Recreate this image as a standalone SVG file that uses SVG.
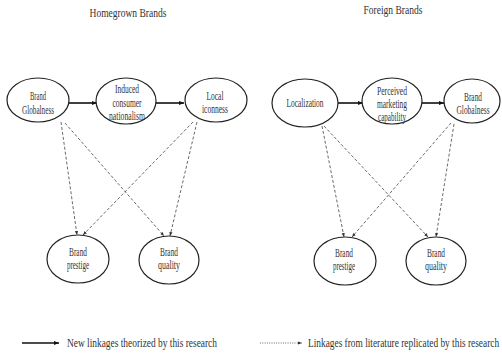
<svg xmlns="http://www.w3.org/2000/svg" width="502" height="353" viewBox="0 0 502 353">
<defs>
<style>
.node ellipse{fill:#fff;stroke:#222;stroke-width:1.2}
text{font-family:"Liberation Serif","Times New Roman",serif;fill:#333;text-anchor:middle}
.t{font-size:12px}
.h{font-size:12px}
.solid{stroke:#111;stroke-width:1.6;fill:none}
.dash{stroke:#444;stroke-width:0.8;stroke-dasharray:3 2;fill:none}
.dot{stroke:#444;stroke-width:0.8;stroke-dasharray:1 1.3;fill:none}
</style>
<marker id="ah" viewBox="0 0 10 10" refX="10" refY="5" markerWidth="5" markerHeight="5" markerUnits="userSpaceOnUse" orient="auto"><path d="M0,1 L10,5 L0,9 z" fill="#111"/></marker>
<marker id="ahs" viewBox="0 0 10 10" refX="10" refY="5" markerWidth="4" markerHeight="4" markerUnits="userSpaceOnUse" orient="auto"><path d="M0,1 L10,5 L0,9 z" fill="#333"/></marker>
</defs>
<rect width="502" height="353" fill="#fff"/>
<text class="h" x="128" y="17" textLength="77" lengthAdjust="spacingAndGlyphs">Homegrown Brands</text>
<text class="h" x="393" y="14" textLength="59" lengthAdjust="spacingAndGlyphs">Foreign Brands</text>
<g id="connectors">
<line class="solid" x1="69" y1="103" x2="97" y2="103" marker-end="url(#ah)"/>
<line class="solid" x1="156" y1="103" x2="184" y2="103" marker-end="url(#ah)"/>
<line class="dash" x1="61" y1="122" x2="77" y2="235" marker-end="url(#ahs)"/>
<line class="dash" x1="65" y1="123" x2="164" y2="236" marker-end="url(#ahs)"/>
<line class="dash" x1="193" y1="122" x2="83" y2="235" marker-end="url(#ahs)"/>
<line class="dash" x1="197" y1="122" x2="170" y2="236" marker-end="url(#ahs)"/>
<line class="solid" x1="338" y1="103" x2="363" y2="103" marker-end="url(#ah)"/>
<line class="solid" x1="422" y1="103" x2="444" y2="103" marker-end="url(#ah)"/>
<line class="dash" x1="322" y1="126" x2="344" y2="237" marker-end="url(#ahs)"/>
<line class="dash" x1="324" y1="126" x2="428" y2="237" marker-end="url(#ahs)"/>
<line class="dash" x1="451" y1="123" x2="352" y2="237" marker-end="url(#ahs)"/>
<line class="dash" x1="454" y1="124" x2="436" y2="237" marker-end="url(#ahs)"/>
</g>
<g id="hg-globalness" class="node"><ellipse cx="38" cy="100" rx="31" ry="22"/>
<text class="t" x="38" y="100" textLength="16" lengthAdjust="spacingAndGlyphs">Brand</text>
<text class="t" x="38" y="114" textLength="32" lengthAdjust="spacingAndGlyphs">Globalness</text></g>
<g id="hg-nationalism" class="node"><ellipse cx="126" cy="101" rx="30" ry="23"/>
<text class="t" x="127" y="93" textLength="24" lengthAdjust="spacingAndGlyphs">Induced</text>
<text class="t" x="127" y="107" textLength="29" lengthAdjust="spacingAndGlyphs">consumer</text>
<text class="t" x="127" y="120" textLength="36" lengthAdjust="spacingAndGlyphs">nationalism</text></g>
<g id="hg-iconness" class="node"><ellipse cx="216" cy="100" rx="31" ry="22"/>
<text class="t" x="215" y="100" textLength="17" lengthAdjust="spacingAndGlyphs">Local</text>
<text class="t" x="215" y="113" textLength="26" lengthAdjust="spacingAndGlyphs">iconness</text></g>
<g id="hg-prestige" class="node"><ellipse cx="78" cy="259" rx="31" ry="24"/>
<text class="t" x="78" y="256" textLength="18" lengthAdjust="spacingAndGlyphs">Brand</text>
<text class="t" x="78" y="269" textLength="22" lengthAdjust="spacingAndGlyphs">prestige</text></g>
<g id="hg-quality" class="node"><ellipse cx="169" cy="260" rx="30" ry="24"/>
<text class="t" x="169" y="256" textLength="18" lengthAdjust="spacingAndGlyphs">Brand</text>
<text class="t" x="169" y="269" textLength="22" lengthAdjust="spacingAndGlyphs">quality</text></g>
<g id="fb-localization" class="node"><ellipse cx="305" cy="103" rx="33" ry="24"/>
<text class="t" x="305" y="107" textLength="37" lengthAdjust="spacingAndGlyphs">Localization</text></g>
<g id="fb-capability" class="node"><ellipse cx="392" cy="101" rx="30" ry="23"/>
<text class="t" x="392" y="95" textLength="30" lengthAdjust="spacingAndGlyphs">Perceived</text>
<text class="t" x="392" y="108" textLength="30" lengthAdjust="spacingAndGlyphs">marketing</text>
<text class="t" x="392" y="121" textLength="28" lengthAdjust="spacingAndGlyphs">capability</text></g>
<g id="fb-globalness" class="node"><ellipse cx="472" cy="101" rx="28" ry="22"/>
<text class="t" x="473" y="101" textLength="18" lengthAdjust="spacingAndGlyphs">Brand</text>
<text class="t" transform="translate(473,114) scale(0.65,1)" x="0" y="0" textLength="51" lengthAdjust="spacingAndGlyphs">Globalness</text></g>
<g id="fb-prestige" class="node"><ellipse cx="345" cy="261" rx="31" ry="24"/>
<text class="t" x="344" y="257" textLength="18" lengthAdjust="spacingAndGlyphs">Brand</text>
<text class="t" x="344" y="270" textLength="22" lengthAdjust="spacingAndGlyphs">prestige</text></g>
<g id="fb-quality" class="node"><ellipse cx="436" cy="261" rx="30" ry="24"/>
<text class="t" x="436" y="257" textLength="18" lengthAdjust="spacingAndGlyphs">Brand</text>
<text class="t" x="436" y="270" textLength="22" lengthAdjust="spacingAndGlyphs">quality</text></g>
<g id="legend">
<line class="solid" x1="22" y1="343" x2="59" y2="343" marker-end="url(#ah)"/>
<text class="h" x="67" y="347" style="text-anchor:start" textLength="150" lengthAdjust="spacingAndGlyphs">New linkages theorized by this research</text>
<line class="dot" x1="260" y1="343" x2="302" y2="343" marker-end="url(#ahs)"/>
<text class="h" transform="translate(308,347) scale(0.78,1)" x="0" y="0" style="text-anchor:start" textLength="245" lengthAdjust="spacingAndGlyphs">Linkages from literature replicated by this research</text>
</g>
</svg>
